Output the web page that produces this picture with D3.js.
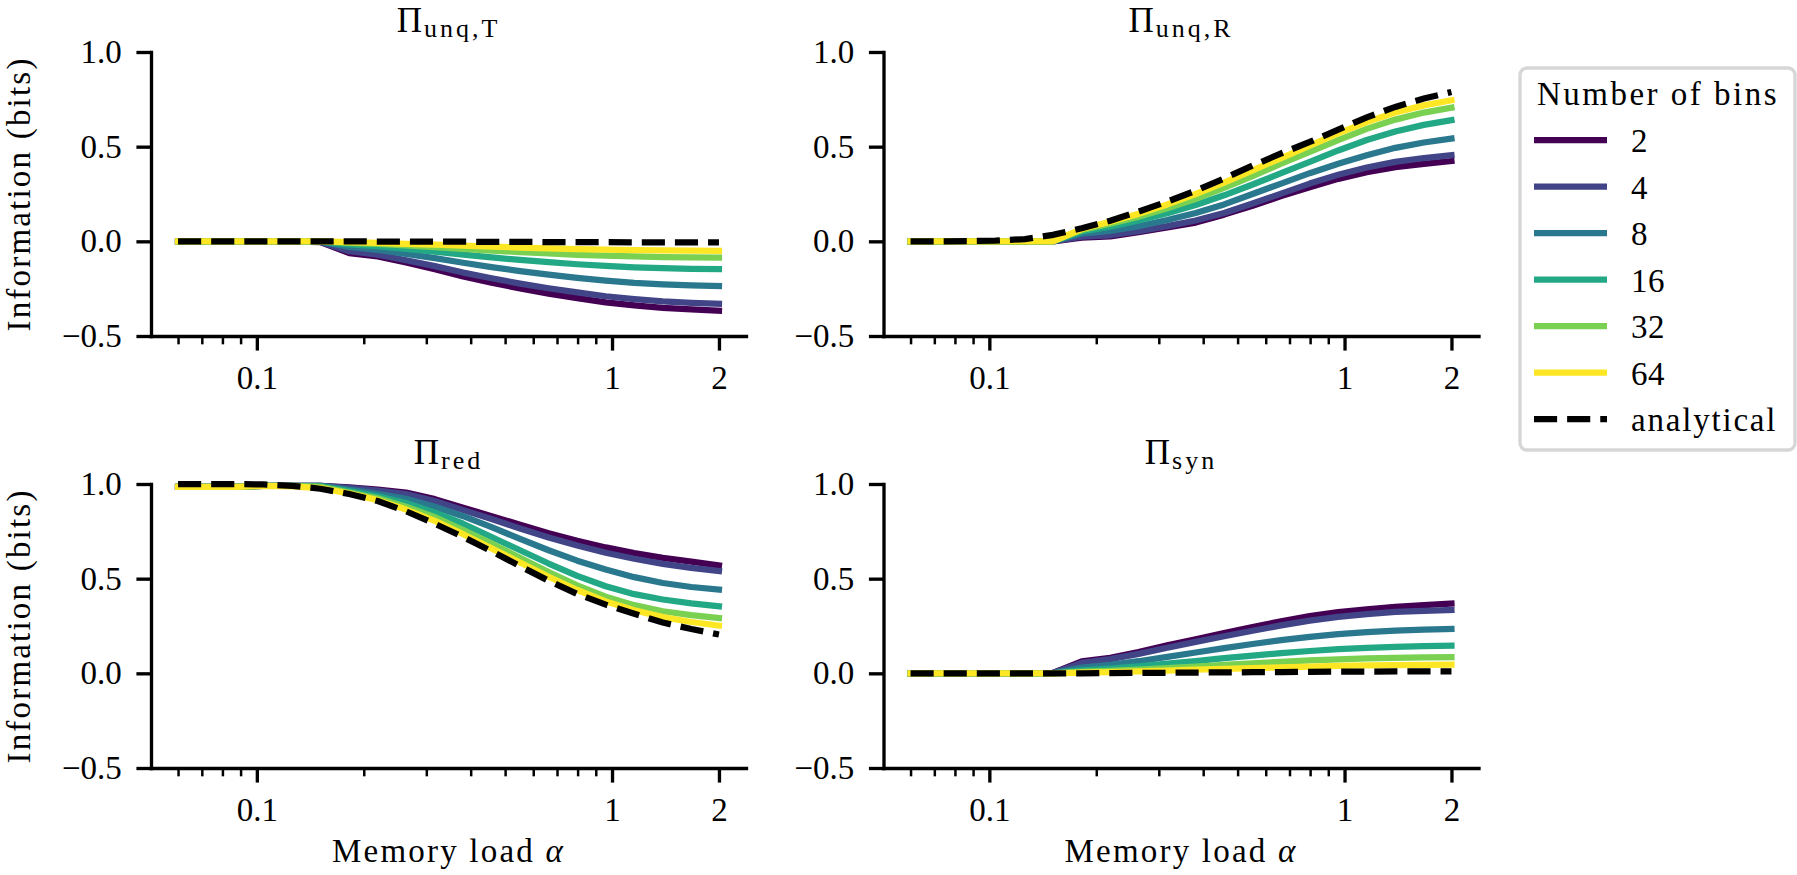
<!DOCTYPE html>
<html>
<head>
<meta charset="utf-8">
<script src="https://cdn.jsdelivr.net/npm/d3@7"></script>
<style>
body { margin: 0; background: #fff; }
</style>
</head>
<body>
<svg id="chart" width="1797" height="875"></svg>
<script>
// memory load (x values)
var alpha = [0.06, 0.072, 0.087, 0.104, 0.126, 0.151, 0.182, 0.219, 0.263, 0.317, 0.381, 0.458, 0.551, 0.663, 0.798, 0.960, 1.155, 1.390, 1.672, 2.0]
var bins = [2, 4, 8, 16, 32, 64]

// Pi unq,T : one row per number of bins
var unqTBins = [
  [0, 0, 0, 0, 0, -0.004, -0.062, -0.080, -0.112, -0.147, -0.185, -0.218, -0.249, -0.276, -0.300, -0.322, -0.338, -0.351, -0.360, -0.366],
  [0, 0, 0, 0, 0, -0.003, -0.052, -0.070, -0.100, -0.131, -0.165, -0.195, -0.223, -0.248, -0.270, -0.290, -0.305, -0.317, -0.325, -0.330],
  [0, 0, 0, 0, 0, -0.002, -0.030, -0.045, -0.066, -0.089, -0.113, -0.136, -0.157, -0.176, -0.193, -0.207, -0.219, -0.227, -0.232, -0.236],
  [0, 0, 0, 0, 0, -0.001, -0.016, -0.026, -0.040, -0.055, -0.070, -0.085, -0.098, -0.110, -0.121, -0.130, -0.137, -0.142, -0.145, -0.147],
  [0, 0, 0, 0, 0, 0, -0.008, -0.014, -0.022, -0.031, -0.040, -0.049, -0.057, -0.064, -0.071, -0.076, -0.080, -0.083, -0.085, -0.086],
  [0, 0, 0, 0, 0, 0, -0.004, -0.008, -0.013, -0.018, -0.023, -0.028, -0.033, -0.037, -0.041, -0.044, -0.046, -0.048, -0.049, -0.050]
]
var unqTAnalytical = [0, 0, 0, 0, 0, 0, 0, -0.001, -0.001, -0.002, -0.002, -0.003, -0.003, -0.004, -0.004, -0.004, -0.005, -0.005, -0.005, -0.005]

// Pi unq,R
var unqRBins = [
  [0, 0, 0, 0, 0, 0, 0.020, 0.026, 0.048, 0.073, 0.099, 0.141, 0.188, 0.239, 0.285, 0.330, 0.365, 0.392, 0.409, 0.424],
  [0, 0, 0, 0, 0, 0, 0.025, 0.032, 0.054, 0.080, 0.110, 0.150, 0.200, 0.252, 0.305, 0.352, 0.390, 0.420, 0.440, 0.455],
  [0, 0, 0, 0, 0, 0, 0.040, 0.055, 0.080, 0.113, 0.150, 0.195, 0.250, 0.305, 0.360, 0.410, 0.455, 0.494, 0.522, 0.543],
  [0, 0, 0, 0, 0, 0, 0.052, 0.077, 0.110, 0.148, 0.192, 0.243, 0.300, 0.360, 0.420, 0.480, 0.535, 0.580, 0.615, 0.640],
  [0, 0, 0, 0, 0, 0, 0.060, 0.093, 0.130, 0.175, 0.225, 0.282, 0.345, 0.410, 0.473, 0.535, 0.594, 0.643, 0.680, 0.706],
  [0, 0, 0, 0, 0, 0, 0.065, 0.103, 0.145, 0.195, 0.250, 0.310, 0.375, 0.440, 0.505, 0.570, 0.630, 0.680, 0.718, 0.745]
]
var unqRAnalytical = [0, 0, 0.001, 0.004, 0.012, 0.034, 0.069, 0.109, 0.157, 0.210, 0.267, 0.332, 0.400, 0.464, 0.525, 0.590, 0.655, 0.710, 0.754, 0.789]

// Pi red
var redBins = [
  [0.985, 0.985, 0.985, 0.990, 0.990, 0.990, 0.982, 0.970, 0.955, 0.920, 0.875, 0.830, 0.785, 0.740, 0.700, 0.665, 0.635, 0.610, 0.590, 0.570],
  [0.985, 0.985, 0.985, 0.990, 0.990, 0.990, 0.979, 0.965, 0.947, 0.910, 0.862, 0.815, 0.765, 0.718, 0.675, 0.637, 0.605, 0.578, 0.557, 0.540],
  [0.985, 0.985, 0.985, 0.990, 0.990, 0.990, 0.970, 0.948, 0.922, 0.880, 0.830, 0.772, 0.710, 0.650, 0.595, 0.548, 0.508, 0.477, 0.456, 0.442],
  [0.985, 0.985, 0.985, 0.990, 0.990, 0.988, 0.962, 0.935, 0.900, 0.850, 0.790, 0.720, 0.650, 0.580, 0.515, 0.460, 0.418, 0.390, 0.370, 0.354],
  [0.985, 0.985, 0.985, 0.990, 0.990, 0.985, 0.955, 0.925, 0.880, 0.825, 0.757, 0.685, 0.610, 0.535, 0.465, 0.405, 0.360, 0.328, 0.307, 0.292],
  [0.985, 0.985, 0.985, 0.990, 0.988, 0.978, 0.950, 0.915, 0.865, 0.805, 0.735, 0.660, 0.585, 0.510, 0.440, 0.380, 0.333, 0.297, 0.271, 0.252]
]
var redAnalytical = [1.0, 1.0, 1.0, 0.998, 0.990, 0.975, 0.947, 0.910, 0.856, 0.790, 0.720, 0.645, 0.566, 0.489, 0.419, 0.363, 0.315, 0.268, 0.234, 0.205]

// Pi syn
var synBins = [
  [0, 0, 0, 0, 0, 0.002, 0.063, 0.082, 0.112, 0.148, 0.180, 0.213, 0.245, 0.275, 0.302, 0.323, 0.338, 0.351, 0.360, 0.368],
  [0, 0, 0, 0, 0, 0.002, 0.055, 0.075, 0.103, 0.135, 0.166, 0.196, 0.225, 0.253, 0.278, 0.298, 0.313, 0.324, 0.330, 0.335],
  [0, 0, 0, 0, 0, 0.001, 0.030, 0.045, 0.064, 0.087, 0.110, 0.133, 0.155, 0.175, 0.193, 0.207, 0.218, 0.226, 0.231, 0.235],
  [0, 0, 0, 0, 0, 0, 0.016, 0.025, 0.037, 0.051, 0.065, 0.080, 0.094, 0.107, 0.118, 0.128, 0.135, 0.140, 0.144, 0.146],
  [0, 0, 0, 0, 0, 0, 0.008, 0.013, 0.020, 0.028, 0.036, 0.045, 0.053, 0.061, 0.068, 0.074, 0.079, 0.082, 0.084, 0.086],
  [0, 0, 0, 0, 0, 0, 0.004, 0.007, 0.010, 0.014, 0.019, 0.023, 0.028, 0.032, 0.036, 0.039, 0.042, 0.044, 0.045, 0.046]
]
var synAnalytical = [0, 0, 0, 0, 0, 0, 0, 0.001, 0.002, 0.003, 0.004, 0.005, 0.006, 0.007, 0.008, 0.009, 0.009, 0.010, 0.010, 0.010]

// ticks
var yTicks = [-0.5, 0, 0.5, 1.0]
var xTicks = [0.1, 1, 2]
var xTickLabels = ["0.1", "1", "2"]
var xMinorTicks = [0.06, 0.07, 0.08, 0.09, 0.2, 0.3, 0.4, 0.5, 0.6, 0.7, 0.8, 0.9]

var svg = d3.select("#chart")
var pt = 300 / 72            // points -> px at 300 dpi
var lineW = 1.5 * pt
var fontSize = 33
var serif = "'Liberation Serif', serif"
var width = 595, height = 284

function color(i) { return d3.interpolateViridis(i / (bins.length - 1)) }

var panels = [
  {sub: "unq,T", values: unqTBins, analytical: unqTAnalytical, left: 151, top: 52, ylabel: true, xlabel: false},
  {sub: "unq,R", values: unqRBins, analytical: unqRAnalytical, left: 883.5, top: 52, ylabel: false, xlabel: false},
  {sub: "red", values: redBins, analytical: redAnalytical, left: 151, top: 484, ylabel: true, xlabel: true},
  {sub: "syn", values: synBins, analytical: synAnalytical, left: 883.5, top: 484, ylabel: false, xlabel: true}
]

// draw one subplot
function drawPanel(p) {
  var lo = Math.log10(d3.min(alpha)), hi = Math.log10(d3.max(alpha))
  var m = 0.05 * (hi - lo)
  var x = d3.scaleLog().domain([Math.pow(10, lo - m), Math.pow(10, hi + m)]).range([p.left, p.left + width])
  var y = d3.scaleLinear().domain([-0.5, 1.0]).range([p.top + height, p.top])
  var g = svg.append("g")

  var line = d3.line()
    .x(function(d, i) { return x(alpha[i]) })
    .y(function(d) { return y(d) })

  p.values.forEach(function(vals, i) {
    g.append("path")
      .attr("d", line(vals))
      .attr("fill", "none")
      .attr("stroke", color(i))
      .attr("stroke-width", lineW)
      .attr("stroke-linejoin", "round")
      .attr("stroke-linecap", "square")
  })
  g.append("path")
    .attr("d", line(p.analytical))
    .attr("fill", "none")
    .attr("stroke", "#000")
    .attr("stroke-width", lineW)
    .attr("stroke-dasharray", (3.7 * lineW) + "," + (1.6 * lineW))
    .attr("stroke-linecap", "butt")

  // minor ticks
  var gm = g.append("g")
    .attr("transform", "translate(0," + (p.top + height) + ")")
    .call(d3.axisBottom(x).tickValues(xMinorTicks).tickSize(2 * pt).tickFormat(""))
  gm.select(".domain").remove()
  gm.selectAll(".tick line").attr("stroke-width", 0.6 * pt)

  var gx = g.append("g")
    .attr("transform", "translate(0," + (p.top + height) + ")")
    .call(d3.axisBottom(x).tickValues(xTicks).tickFormat(function(d, i) { return xTickLabels[i] })
      .tickSize(3.5 * pt).tickPadding(3.5 * pt).tickSizeOuter(0))
  var gy = g.append("g")
    .attr("transform", "translate(" + p.left + ",0)")
    .call(d3.axisLeft(y).tickValues(yTicks).tickFormat(d3.format(".1f"))
      .tickSize(3.5 * pt).tickPadding(3.5 * pt).tickSizeOuter(0))

  ;[gx, gy].forEach(function(a) {
    a.attr("font-family", serif).attr("font-size", fontSize)
    a.select(".domain").attr("stroke-width", 0.8 * pt).attr("stroke-linecap", "square")
    a.selectAll(".tick line").attr("stroke-width", 0.8 * pt)
  })

  // title
  var t = g.append("text")
    .attr("x", p.left + width / 2)
    .attr("y", p.top - 20)
    .attr("text-anchor", "middle")
    .attr("font-family", serif)
    .attr("font-size", 35)
  t.append("tspan").text("Π")
  t.append("tspan").attr("dx", 2).attr("dy", 5).attr("font-size", 26).attr("letter-spacing", 3).text(p.sub)

  if (p.ylabel) {
    g.append("text")
      .attr("transform", "translate(30," + (p.top + height / 2) + ") rotate(-90)")
      .attr("text-anchor", "middle")
      .attr("font-family", serif)
      .attr("font-size", fontSize)
      .attr("letter-spacing", 2.2)
      .text("Information (bits)")
  }
  if (p.xlabel) {
    var xl = g.append("text")
      .attr("x", p.left + width / 2)
      .attr("y", 862)
      .attr("text-anchor", "middle")
      .attr("font-family", serif)
      .attr("font-size", fontSize)
      .attr("letter-spacing", 2.2)
    xl.append("tspan").text("Memory load ")
    xl.append("tspan").attr("font-style", "italic").text("α")
  }
}

panels.forEach(drawPanel)

// Legend
var leg = svg.append("g").attr("font-family", serif).attr("font-size", fontSize)
leg.append("rect")
  .attr("x", 1520).attr("y", 68)
  .attr("width", 275).attr("height", 382)
  .attr("rx", 7)
  .attr("fill", "#fff")
  .attr("stroke", "#d6d6d6")
  .attr("stroke-width", 0.8 * pt)
leg.append("text")
  .attr("x", 1658).attr("y", 105)
  .attr("text-anchor", "middle")
  .attr("letter-spacing", 2.5)
  .text("Number of bins")

var legItems = bins.map(String).concat(["analytical"])
legItems.forEach(function(label, i) {
  var yy = 140 + i * 46.5
  var h = leg.append("line")
    .attr("x1", 1534).attr("x2", 1607)
    .attr("y1", yy).attr("y2", yy)
    .attr("stroke-width", lineW)
  if (i < bins.length) {
    h.attr("stroke", color(i))
  } else {
    h.attr("stroke", "#000").attr("stroke-dasharray", (3.7 * lineW) + "," + (1.6 * lineW))
  }
  leg.append("text")
    .attr("x", 1631).attr("y", yy + 12)
    .attr("letter-spacing", i < bins.length ? 0.5 : 1.8)
    .text(label)
})
</script>
</body>
</html>
